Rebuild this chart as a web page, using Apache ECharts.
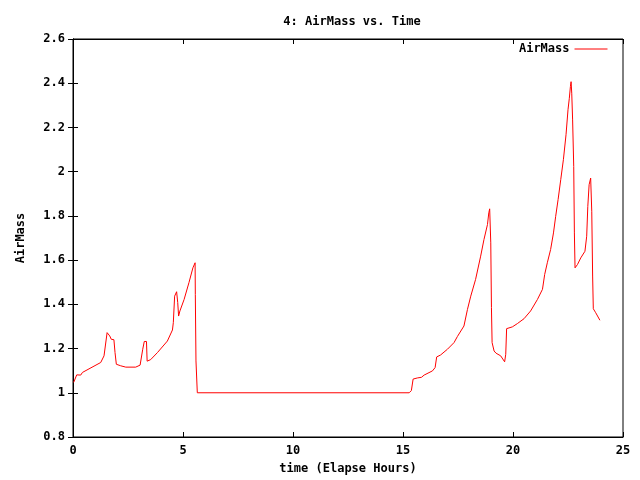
<!DOCTYPE html>
<html>
<head>
<meta charset="utf-8">
<script src="https://cdn.jsdelivr.net/npm/echarts@6/dist/echarts.min.js"></script>
<style>
  body { margin: 0; background: #fff; }
  #main { width: 640px; height: 480px; }
</style>
</head>
<body>
<div id="main"></div>
<script type="text/javascript">
// elapsed hours and airmass
var hours = [0.03, 0.17, 0.35, 0.43, 1.26, 1.41, 1.55, 1.67, 1.74, 1.86, 1.91, 1.97, 2.17, 2.4, 2.85, 3.05, 3.14, 3.17, 3.24, 3.34, 3.37, 3.53, 3.84, 4.29, 4.52, 4.56, 4.62, 4.71, 4.76, 4.8, 4.86, 5.05, 5.27, 5.45, 5.55, 5.56, 5.59, 5.65,
  15.28, 15.38, 15.46, 15.65, 15.84, 15.96, 16.34, 16.46, 16.53, 16.71, 17.02, 17.32, 17.47, 17.77, 17.93, 18.08, 18.3, 18.53, 18.68, 18.84, 18.9, 18.94, 18.99, 19.02, 19.05, 19.14, 19.23, 19.32, 19.44, 19.62, 19.67, 19.71,
  19.97, 20.2, 20.5, 20.8, 21.11, 21.34, 21.44, 21.56, 21.71, 21.84, 21.94, 22.05, 22.17, 22.29, 22.41, 22.5, 22.56, 22.61, 22.64, 22.67, 22.71, 22.76, 22.79, 22.82, 22.93, 23.08, 23.27, 23.35, 23.4, 23.46, 23.53, 23.58, 23.62, 23.65, 23.76, 23.95];
var airMass = [1.047, 1.081, 1.08, 1.092, 1.137, 1.167, 1.272, 1.257, 1.242, 1.24, 1.182, 1.129, 1.122, 1.116, 1.116, 1.125, 1.129, 1.197, 1.232, 1.232, 1.143, 1.15, 1.182, 1.234, 1.284, 1.317, 1.437, 1.457, 1.408, 1.347, 1.37, 1.422, 1.498, 1.565, 1.588, 1.445, 1.144, 1.0,
  1.0, 1.01, 1.062, 1.067, 1.07, 1.08, 1.099, 1.114, 1.162, 1.171, 1.197, 1.227, 1.254, 1.302, 1.377, 1.437, 1.513, 1.618, 1.693, 1.761, 1.814, 1.832, 1.678, 1.385, 1.227, 1.189, 1.179, 1.188, 1.167, 1.14, 1.174, 1.29,
  1.298, 1.313, 1.335, 1.37, 1.422, 1.468, 1.535, 1.588, 1.648, 1.723, 1.798, 1.874, 1.964, 2.054, 2.167, 2.28, 2.332, 2.385, 2.407, 2.355, 2.234, 2.024, 1.723, 1.565, 1.58, 1.61, 1.64, 1.708, 1.843, 1.941, 1.971, 1.821, 1.528, 1.38, 1.362, 1.328];

var points = hours.map(function (h, i) { return [h, airMass[i]]; });

var font = 'DejaVu Sans Mono';
var chart = echarts.init(document.getElementById('main'));
var option = {
    animation: false,
    title: {
        text: '4: AirMass vs. Time',
        left: 347, textAlign: 'center', top: 11,
        textStyle: { fontFamily: font, fontSize: 12, fontWeight: 'bold', color: '#000' }
    },
    legend: {
        data: ['AirMass'],
        right: 27, top: 38,
        align: 'right',
        itemWidth: 33, itemHeight: 14,
        itemStyle: { opacity: 0 },
        lineStyle: { width: 1, color: '#ff0000' },
        textStyle: { fontFamily: font, fontSize: 12, fontWeight: 'bold', color: '#000' }
    },
    grid: { left: 73, right: 17, top: 39, bottom: 42, show: true, borderColor: '#000', borderWidth: 1 },
    xAxis: [{
        type: 'value', min: 0, max: 25, interval: 5,
        name: 'time (Elapse Hours)', nameLocation: 'middle', nameGap: 26,
        nameTextStyle: { fontFamily: font, fontSize: 12, fontWeight: 'bold', color: '#000' },
        axisLine: { lineStyle: { color: '#000' } },
        axisTick: { inside: true, length: 5, lineStyle: { color: '#000' } },
        axisLabel: { fontFamily: font, fontSize: 12, fontWeight: 'bold', color: '#000', margin: 8 },
        splitLine: { show: false }
    }, {
        type: 'value', min: 0, max: 25, interval: 5, position: 'top',
        axisLine: { lineStyle: { color: '#000' } },
        axisTick: { inside: true, length: 5, lineStyle: { color: '#000' } },
        axisLabel: { show: false }, splitLine: { show: false }
    }],
    yAxis: [{
        type: 'value', min: 0.8, max: 2.6, interval: 0.2,
        name: 'AirMass', nameLocation: 'middle', nameGap: 46, nameRotate: 90,
        nameTextStyle: { fontFamily: font, fontSize: 12, fontWeight: 'bold', color: '#000' },
        axisLine: { show: true, lineStyle: { color: '#000' } },
        axisTick: { show: true, inside: true, length: 5, lineStyle: { color: '#000' } },
        axisLabel: {
            fontFamily: font, fontSize: 12, fontWeight: 'bold', color: '#000', margin: 8,
            formatter: function (v) { return String(Math.round(v * 10) / 10); }
        },
        splitLine: { show: false }
    }, {
        type: 'value', min: 0.8, max: 2.6, interval: 0.2, position: 'right',
        axisLine: { show: true, lineStyle: { color: '#000' } },
        axisTick: { show: true, inside: true, length: 5, lineStyle: { color: '#000' } },
        axisLabel: { show: false }, splitLine: { show: false }
    }],
    series: [{
        name: 'AirMass',
        type: 'line',
        data: points,
        symbol: 'none',
        color: '#ff0000',
        lineStyle: { width: 1, color: '#ff0000' }
    }]
};
chart.setOption(option);
</script>
</body>
</html>
